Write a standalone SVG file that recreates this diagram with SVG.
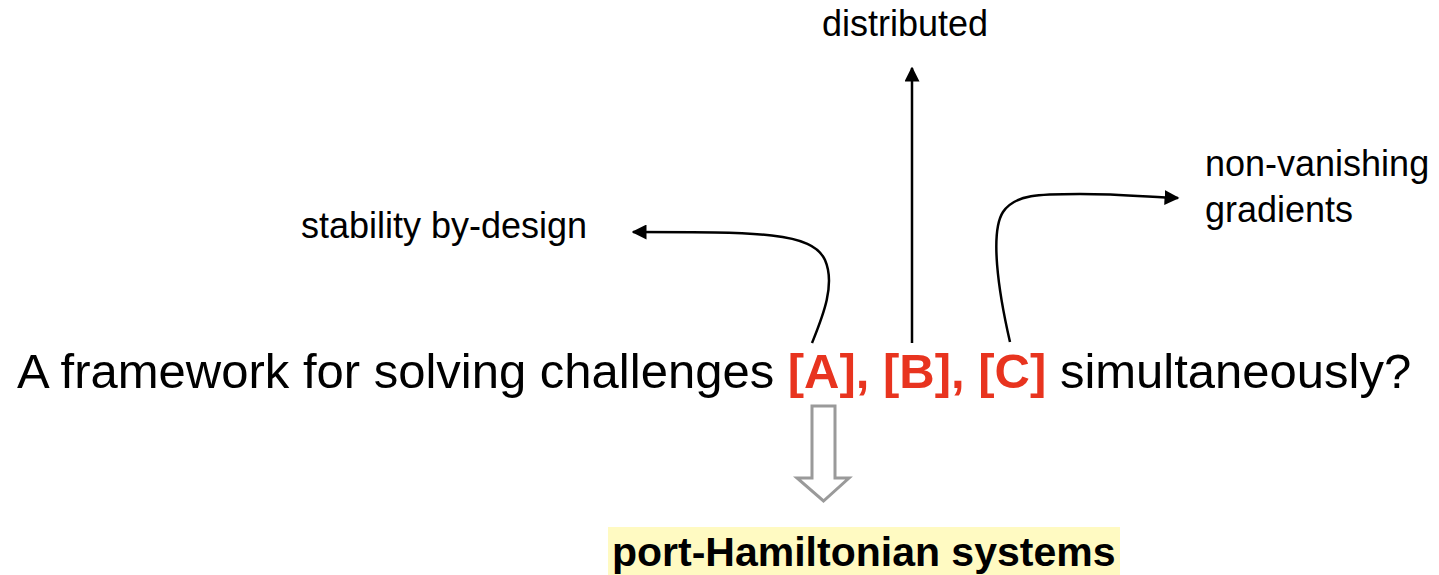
<svg xmlns="http://www.w3.org/2000/svg" width="1439" height="575" viewBox="0 0 1439 575">
<style>
text{font-family:"Liberation Sans",Arial,sans-serif;fill:#000}
.lbl{font-size:36px}
.main{font-size:49px}
.red{fill:#E8341F;font-weight:bold}
.conn{fill:none;stroke:#000;stroke-width:2.5}
</style>
<defs>
<marker id="ah" viewBox="0 0 10 10" refX="9" refY="5" markerWidth="6" markerHeight="6" markerUnits="strokeWidth" orient="auto">
<path d="M0,0 L10,5 L0,10 Z" fill="#000"/>
</marker>
</defs>
<rect width="1439" height="575" fill="#fff"/>
<g id="label-distributed"><text class="lbl" x="822" y="36">distributed</text></g>
<g id="label-stability"><text class="lbl" x="301" y="238">stability by-design</text></g>
<g id="label-nonvanishing"><text class="lbl" x="1205" y="176">non-vanishing</text><text class="lbl" x="1205" y="222">gradients</text></g>
<g id="main-question"><text class="main" x="17" y="388">A framework for solving challenges <tspan class="red">[A], [B], [C]</tspan> simultaneously?</text></g>
<g id="result"><rect x="608" y="527" width="512" height="48" fill="#FFFAC2"/><text x="612" y="566" font-size="41" font-weight="bold">port-Hamiltonian systems</text></g>
<g id="connectors">
<path class="conn" d="M812,343 C822,318 836,285 825,260 C812,232 760,232 633,232" marker-end="url(#ah)"/>
<path class="conn" d="M912,343 L912,68" marker-end="url(#ah)"/>
<path class="conn" d="M1010,342 C998,290 990,232 1003,212 C1015,194 1040,194 1080,194 C1120,194 1150,197 1178,198" marker-end="url(#ah)"/>
<path d="M812,406 L835,406 L835,478 L849,478 L823.5,501 L797,478 L812,478 Z" fill="#fff" stroke="#9a9a9a" stroke-width="3"/>
</g>
</svg>
